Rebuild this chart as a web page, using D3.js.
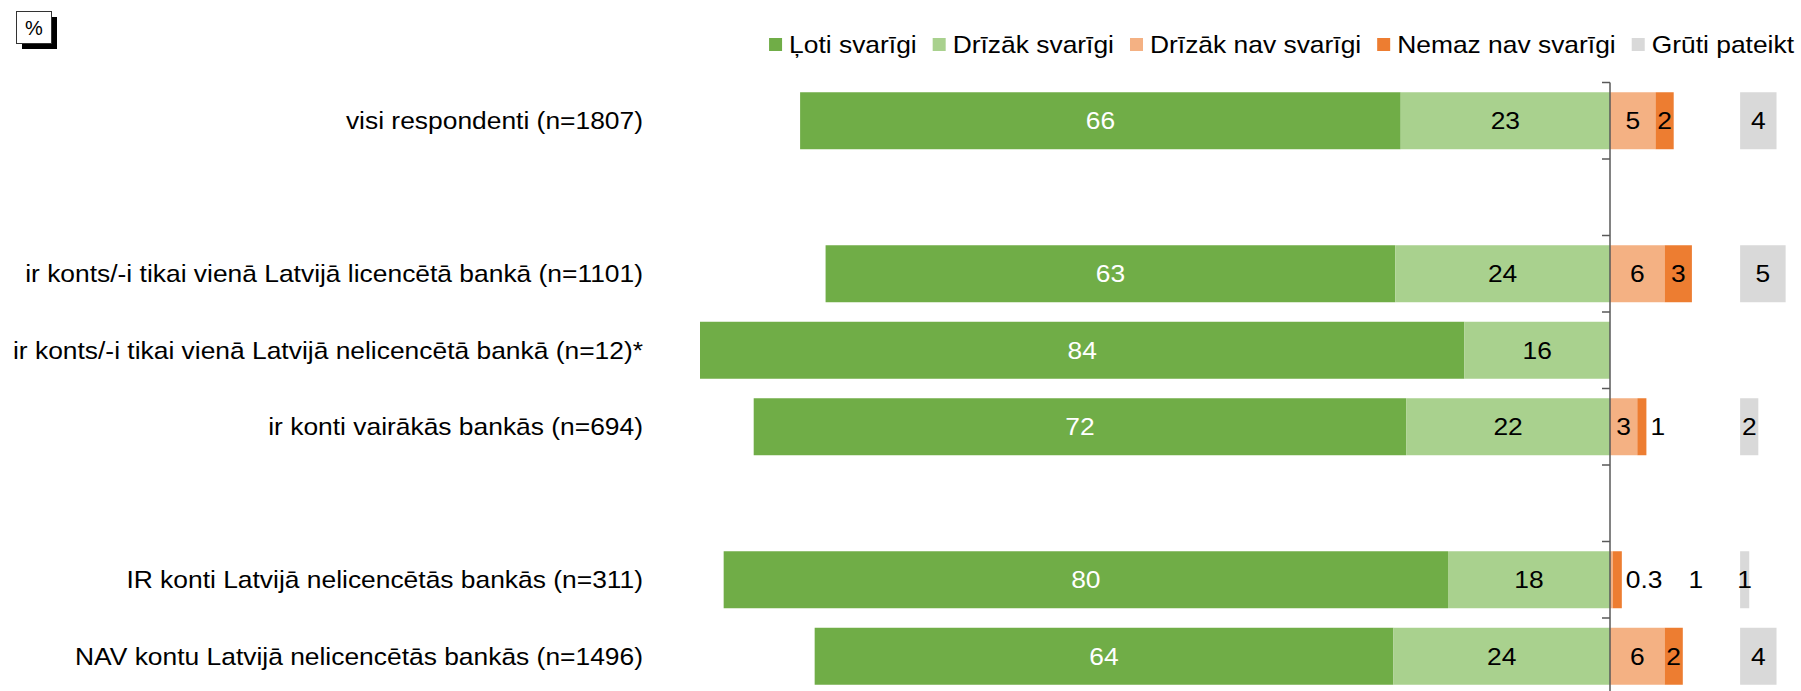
<!DOCTYPE html>
<html>
<head>
<meta charset="utf-8">
<script src="https://cdn.jsdelivr.net/npm/d3@7"></script>
<style>
  html, body { margin: 0; padding: 0; background: #fff; }
  svg { display: block; font-family: "Liberation Sans", Arial, sans-serif; }
</style>
</head>
<body>
<svg id="chart" width="1801" height="691"></svg>
<script>
// ---- data ----
const categories = [
  "visi respondenti (n=1807)",
  null,
  "ir konts/-i tikai vienā Latvijā licencētā bankā (n=1101)",
  "ir konts/-i tikai vienā Latvijā nelicencētā bankā (n=12)*",
  "ir konti vairākās bankās (n=694)",
  null,
  "IR konti Latvijā nelicencētās bankās (n=311)",
  "NAV kontu Latvijā nelicencētās bankās (n=1496)"
];
const seriesNames = ["Ļoti svarīgi", "Drīzāk svarīgi", "Drīzāk nav svarīgi", "Nemaz nav svarīgi", "Grūti pateikt"];
const veryImportant   = [66, null, 62.6, 84, 71.7, null, 79.6, 63.6];
const ratherImportant = [23, null, 23.6, 16, 22.4, null, 17.8, 23.8];
const ratherNot       = [5,  null, 6,  0,  3,  null, 0.3, 6];
const notAtAll        = [2,  null, 3,  0,  1,  null, 1,  2];
const hardToSay       = [4,  null, 5,  0,  2,  null, 1,  4];
const colors = ["#70AD47", "#A9D18E", "#F4B183", "#ED7D31", "#D9D9D9"];

// ---- layout ----
const svg = d3.select("#chart");
const FS = 24, SX = 1.1;           // font size and horizontal stretch
const zeroX = 1610;
const x = d3.scaleLinear().domain([-100, 20]).range([zeroX - 910, zeroX + 182]);
const greyStart = 14.3;            // offset of "Grūti pateikt" column (units)
const idx = d3.range(categories.length);
const y = d3.scaleBand().domain(idx).range([82.5, 694.5]).paddingInner(0.255).paddingOuter(0.1275);

function txt(sel, tx, ty, s, anchor, color) {
  return sel.append("text")
    .attr("transform", `translate(${tx},${ty}) scale(${SX},1)`)
    .attr("text-anchor", anchor)
    .attr("dy", "0.35em")
    .attr("font-size", FS)
    .attr("fill", color || "#000")
    .text(s);
}
const fmt = v => v < 1 ? d3.format(".1f")(v) : d3.format(".0f")(v);

// "%" box
svg.append("rect").attr("x", 22).attr("y", 17).attr("width", 35).attr("height", 32).attr("fill", "#000");
svg.append("rect").attr("x", 16.5).attr("y", 11.5).attr("width", 35).attr("height", 32)
  .attr("fill", "#fff").attr("stroke", "#333").attr("stroke-width", 1);
svg.append("text").attr("x", 34).attr("y", 28).attr("dy", "0.35em").attr("text-anchor", "middle")
  .attr("font-size", 20).text("%");

// bars
const gBars = svg.append("g");
const gLabels = svg.append("g");
idx.forEach(i => {
  if (categories[i] === null) return;
  const cy = y(i) + y.bandwidth() / 2;
  txt(gLabels, 643, cy, categories[i], "end");
  const left = [[veryImportant[i], 0], [ratherImportant[i], 1]];
  let start = -(veryImportant[i] + ratherImportant[i]);
  left.forEach(([v, s]) => {
    if (!v) return;
    const x0 = x(start), x1 = x(start + v);
    gBars.append("rect").attr("x", x0).attr("y", y(i)).attr("width", x1 - x0).attr("height", y.bandwidth())
      .attr("fill", colors[s]);
    txt(gLabels, (x0 + x1) / 2, cy, fmt(v), "middle", s === 0 ? "#fff" : "#000");
    start += v;
  });
  let pos = 0;
  const outside = [];
  [[ratherNot[i], 2], [notAtAll[i], 3]].forEach(([v, s]) => {
    if (!v) return;
    const x0 = x(pos), x1 = x(pos + v);
    gBars.append("rect").attr("x", x0).attr("y", y(i)).attr("width", x1 - x0).attr("height", y.bandwidth())
      .attr("fill", colors[s]);
    if (x1 - x0 < 12) outside.push(v);
    else txt(gLabels, (x0 + x1) / 2, cy, fmt(v), "middle", "#000");
    pos += v;
  });
  let cursor = x(pos) + 4;
  outside.forEach(v => {
    const t = txt(gLabels, 0, cy, fmt(v), "start", "#000");
    const w = t.node().getComputedTextLength() * SX;
    t.attr("transform", `translate(${cursor},${cy}) scale(${SX},1)`);
    cursor += w + 26;
  });
  const h = hardToSay[i];
  if (h) {
    const x0 = x(greyStart), x1 = x(greyStart + h);
    gBars.append("rect").attr("x", x0).attr("y", y(i)).attr("width", x1 - x0).attr("height", y.bandwidth())
      .attr("fill", colors[4]);
    txt(gLabels, (x0 + x1) / 2, cy, fmt(h), "middle", "#000");
  }
});

// zero axis with ticks at band boundaries
const gAxis = svg.append("g");
const r = y.range();
gAxis.append("line").attr("x1", x(0)).attr("x2", x(0)).attr("y1", r[0]).attr("y2", r[1])
  .attr("stroke", "#595959").attr("stroke-width", 1.5);
const tickYs = idx.map(i => y(i) - y.step() * y.paddingInner() / 2).concat([r[1]]);
tickYs[0] = r[0];
tickYs.forEach(ty => {
  gAxis.append("line").attr("x1", x(0) - 8).attr("x2", x(0)).attr("y1", ty).attr("y2", ty)
    .attr("stroke", "#595959").attr("stroke-width", 1.5);
});

// legend (right aligned)
const gLeg = svg.append("g");
const items = seriesNames.map((n, k) => {
  const g = gLeg.append("g");
  g.append("rect").attr("x", 0).attr("y", 38).attr("width", 13).attr("height", 13).attr("fill", colors[k]);
  const t = txt(g, 20, 45, n, "start", "#000");
  return { g, w: 20 + t.node().getComputedTextLength() * SX };
});
const gap = 16;
const total = d3.sum(items, d => d.w) + gap * (items.length - 1);
let lx = 1794 - total;
items.forEach(it => { it.g.attr("transform", `translate(${lx},0)`); lx += it.w + gap; });
</script>
</body>
</html>
